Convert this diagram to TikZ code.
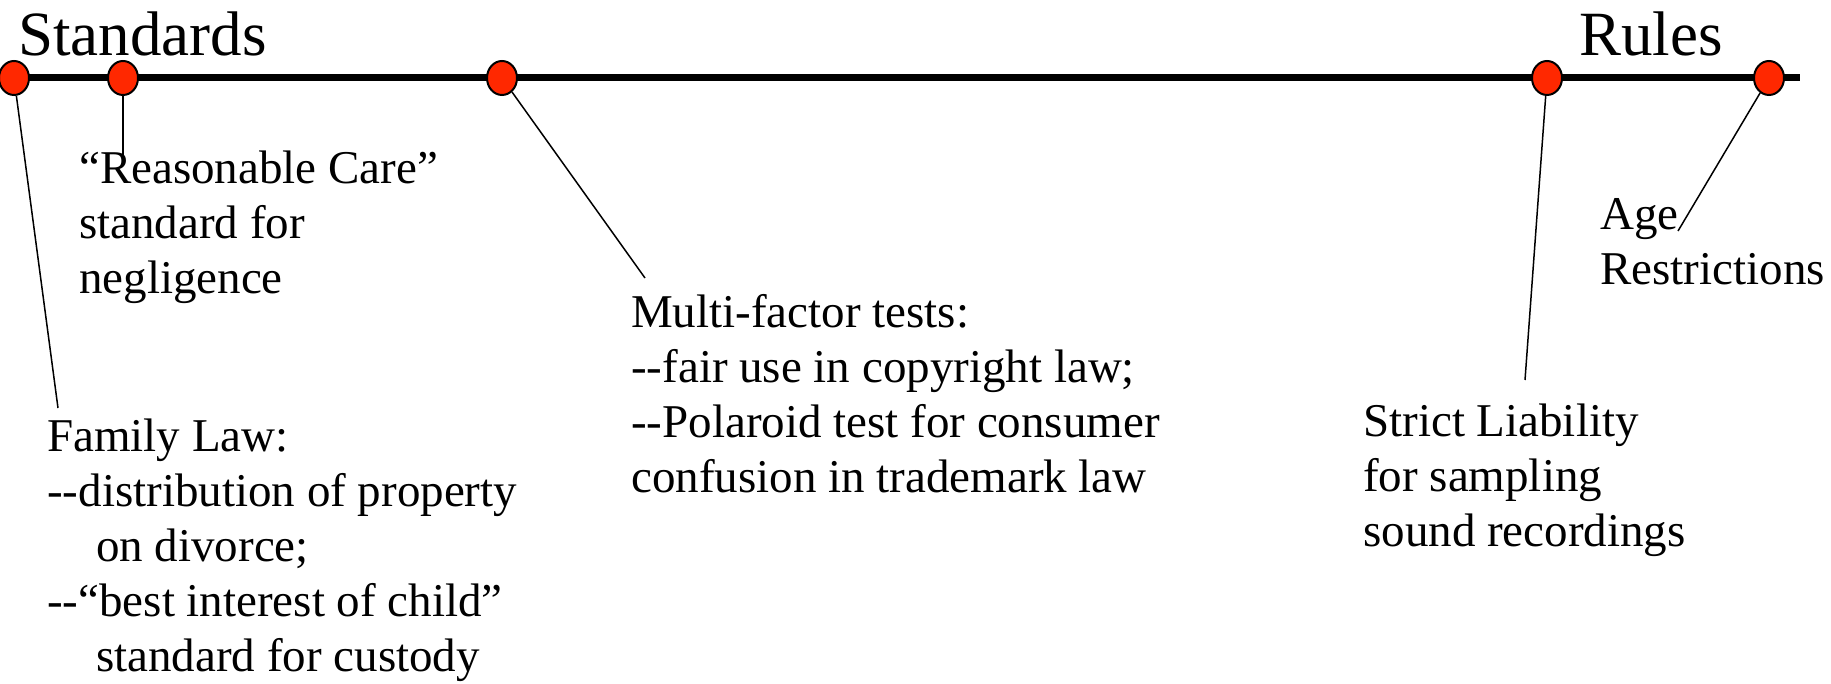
\documentclass[tikz,border=0pt]{standalone}
\usepackage{fontspec}
\setmainfont{Liberation Serif}
\usetikzlibrary{shapes.geometric}
\definecolor{dotred}{RGB}{255,40,0}
\newcommand{\dd}{{-}{-}}
\begin{document}
\begin{tikzpicture}[x=1pt,y=-1pt,
  dot/.style={ellipse, draw=black, line width=2pt, fill=dotred, minimum width=30pt, minimum height=34pt, inner sep=0pt},
  title/.style={anchor=base west, inner sep=0pt, font=\fontsize{63}{75}\selectfont},
  txt/.style={anchor=base west, inner sep=0pt, align=left, font=\fontsize{47}{55}\selectfont},
  conn/.style={draw=black, line width=1.5pt},
  bar/.style={draw=black, line width=7pt}]
\useasboundingbox (0,0) rectangle (1831,684);
\coordinate (lstart) at (0,78);
\coordinate (lend) at (1800,78);
\draw[bar] (lstart) -- (lend);
\node[title] (standards) at (18,56) {Standards};
\node[title] (rules) at (1579,56) {Rules};
\node[dot] (c1) at (14,78) {};
\node[dot] (c2) at (123,78) {};
\node[dot] (c3) at (502,78) {};
\node[dot] (c4) at (1547,78) {};
\node[dot] (c5) at (1769,78) {};
\node[txt] (rc) at (79,294) {“Reasonable Care”\\standard for\\negligence};
\node[txt] (fl) at (47,671) {Family Law:\\\dd distribution of property\\\hspace*{49pt}on divorce;\\\dd“best interest of child”\\\hspace*{49pt}standard for custody};
\node[txt] (mf) at (631,492) {Multi-factor tests:\\\dd fair use in copyright law;\\\dd Polaroid test for consumer\\confusion in trademark law};
\node[txt] (sl) at (1363,546) {Strict Liability\\for sampling\\sound recordings};
\node[txt] (ar) at (1600,285) {Age\\Restrictions};
\coordinate (e1) at (58,408);
\coordinate (e2) at (123,163);
\coordinate (e3) at (645,278);
\coordinate (e4) at (1525,380);
\coordinate (e5) at (1678,231);
\draw[conn] (c1) -- (e1);
\draw[conn] (c2) -- (e2);
\draw[conn] (c3) -- (e3);
\draw[conn] (c4) -- (e4);
\draw[conn] (c5) -- (e5);
\end{tikzpicture}
\end{document}
